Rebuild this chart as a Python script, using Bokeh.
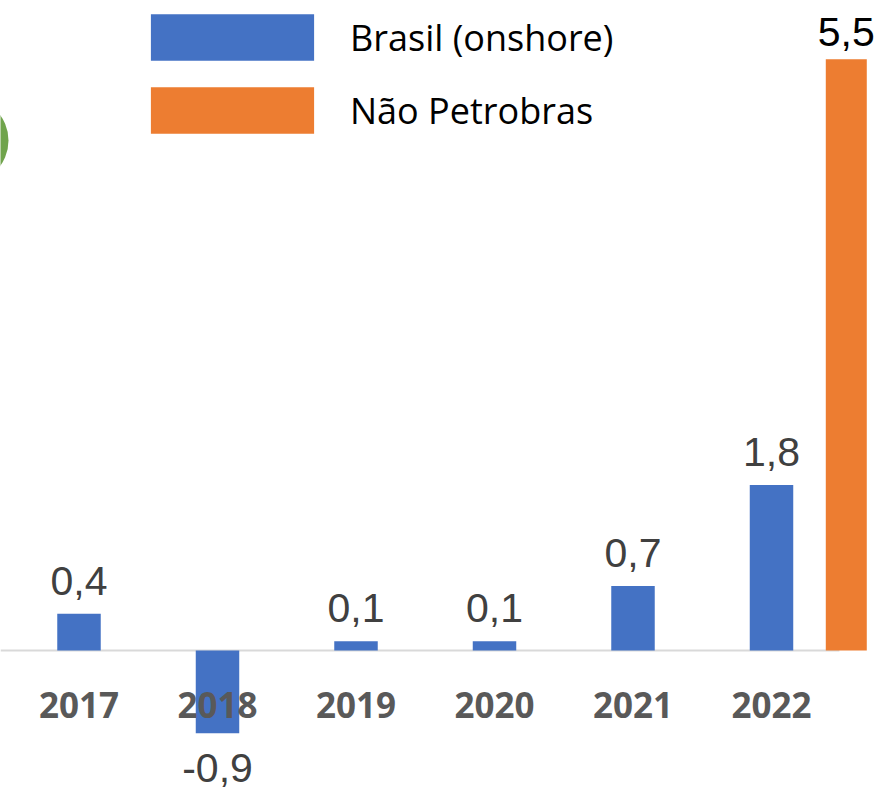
from bokeh.plotting import figure
from bokeh.models import ColumnDataSource, Range1d, Legend, LegendItem
from bokeh.core.properties import value
from bokeh.embed import file_html
from bokeh.resources import INLINE

# ---- data ----
years = ["2017", "2018", "2019", "2020", "2021", "2022"]
brasil_onshore = [0.4, -0.9, 0.1, 0.1, 0.7, 1.8]
nao_petrobras_years = ["2022"]
nao_petrobras = [5.5]

def fmt(v):
    return f"{v:.1f}".replace(".", ",")

BLUE = "#4472C4"
ORANGE = "#ED7D31"
GREEN = "#70A44C"

W, H = 878, 790
PX_X = 138.5          # px per category step
PX_BLUE = 92.0        # px per unit (blue series)
PX_ORANGE = 107.5     # px per unit (orange series, own scale)
BASE = 650            # baseline, px from top
X0 = -78.5 / PX_X

p = figure(width=W, height=H, output_backend="svg", toolbar_location=None,
           x_range=Range1d(X0, X0 + W / PX_X),
           y_range=Range1d(-(H - BASE) / PX_BLUE, BASE / PX_BLUE),
           x_axis_type=None, y_axis_type=None, min_border=0)
p.grid.visible = False
p.outline_line_color = None
p.extra_y_ranges = {"np": Range1d(-(H - BASE) / PX_ORANGE, BASE / PX_ORANGE)}

xs = list(range(len(years)))
src = ColumnDataSource(dict(
    x=xs, top=brasil_onshore, year=years,
    label=[fmt(v) for v in brasil_onshore],
    off=[-33 if v >= 0 else 35 for v in brasil_onshore],
))
np_x = [years.index(y) + 0.54 for y in nao_petrobras_years]
src_np = ColumnDataSource(dict(x=np_x, top=nao_petrobras, label=[fmt(v) for v in nao_petrobras]))

# decorative green shape at the left edge
p.circle(x=[X0 - 35 / PX_X], y=[(BASE - 140) / PX_BLUE], radius=43, radius_units="screen",
         fill_color=GREEN, line_color=None)

# baseline
p.segment(x0=[X0], x1=[5.49], y0=[0], y1=[0], line_color="#d9d9d9", line_width=2)

blue = p.vbar(x="x", top="top", bottom=0, width=0.314, source=src, fill_color=BLUE, line_color=None)
orange = p.vbar(x="x", top="top", bottom=0, width=0.296, source=src_np, fill_color=ORANGE,
                line_color=None, y_range_name="np")

# data labels
p.text(x="x", y="top", text="label", source=src, y_offset="off", text_align="center",
       text_baseline="alphabetic", text_font=value("Liberation Sans"), text_font_size="41px",
       text_color="#404040")
p.text(x="x", y="top", text="label", source=src_np, y_offset=-27, text_align="center",
       text_baseline="alphabetic", text_font=value("Liberation Sans"), text_font_size="41px",
       text_color="#000000", y_range_name="np")

# category labels
p.text(x="x", y=0, text="year", source=src, y_offset=54, text_align="center",
       text_baseline="alphabetic", text_font=value("Noto Sans"), text_font_style="bold",
       text_font_size="35px", text_color="#595959")

GW, GH = 204, 58
legend = Legend(items=[LegendItem(label="Brasil (onshore)", renderers=[blue]),
                       LegendItem(label="Não Petrobras", renderers=[orange])],
                location=(130, H - 8 - (2 * GH + 15)), glyph_width=GW, glyph_height=GH, spacing=15,
                label_standoff=16, padding=0, margin=0, border_line_color=None,
                background_fill_alpha=0, label_text_font="Open Sans",
                label_text_font_size="36px", label_text_color="#000000")
p.add_layout(legend)

open("out.html", "w").write(file_html(p, INLINE))
